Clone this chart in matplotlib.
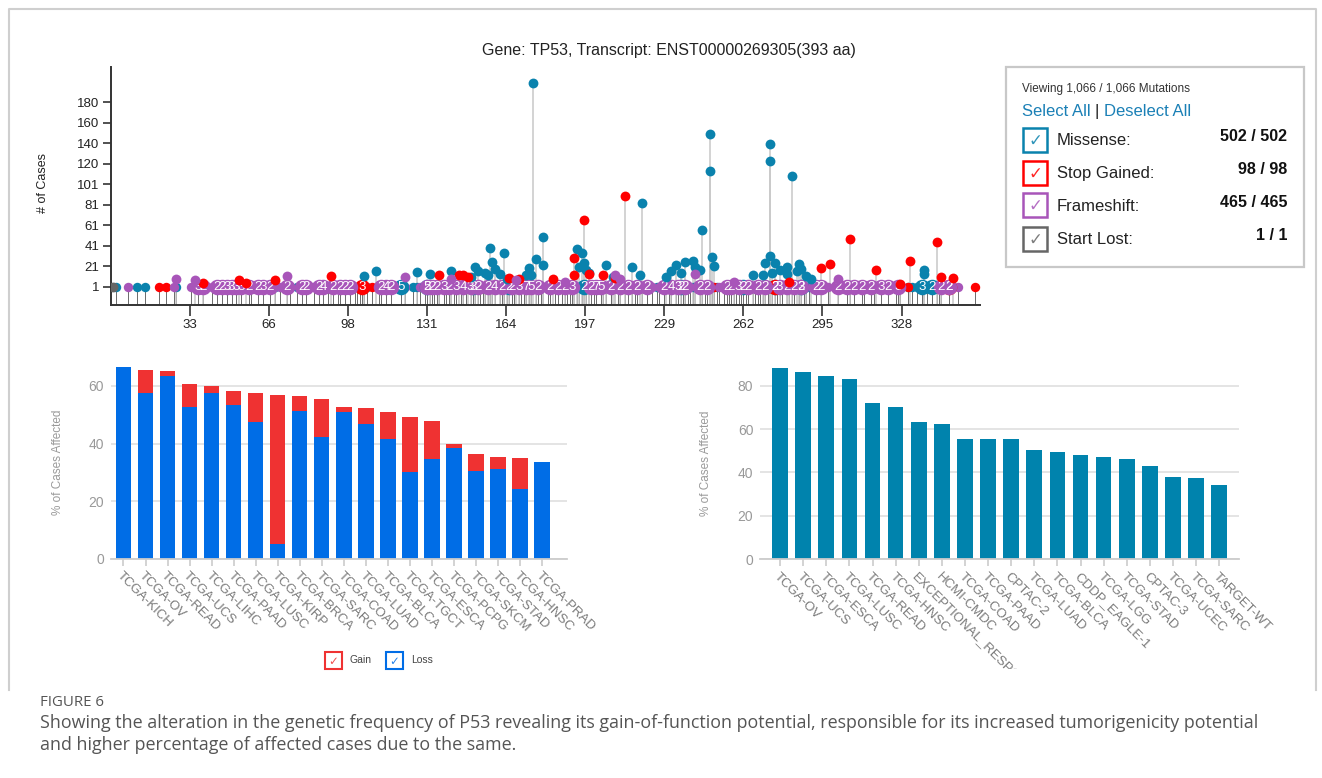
import matplotlib
matplotlib.use('Agg')
import matplotlib.pyplot as plt
from matplotlib.patches import Rectangle
from matplotlib.transforms import Bbox, TransformedBbox

W, H = 1322, 778
plt.rcParams['font.family'] = ['Liberation Sans', 'DejaVu Sans']

# ---------------- data: lollipop (TP53) ----------------
title_text = "Gene: TP53, Transcript: ENST00000269305(393 aa)"
protein_len = 393
x_tick_labels = ['33', '66', '98', '131', '164', '197', '229', '262', '295', '328']
y_tick_labels = ['1', '21', '41', '61', '81', '101', '120', '140', '160', '180']

mis_hi_pos = [175, 248, 248, 273, 273, 282, 220, 245, 179, 157, 193, 163, 195, 273, 249, 176,
              241, 238, 158, 271, 275, 285, 234, 179, 205, 151, 216, 280, 173, 286, 337, 277,
              159, 141, 110, 127, 198, 236, 132, 161, 280, 337, 266, 105, 244, 250, 152, 155,
              242, 270, 156, 194, 196, 197, 274, 284, 288, 290, 232, 230, 208, 219, 172, 149,
              164, 174]
mis_hi_cases = [199, 149, 113, 140, 123, 108, 82, 56, 49, 39, 38, 34, 34, 31, 30, 28,
                26, 25, 25, 24, 24, 23, 22, 22, 22, 20, 20, 20, 19, 18, 17, 17,
                18, 16, 16, 15, 14, 14, 13, 13, 13, 13, 12, 11, 17, 21, 16, 14,
                20, 12, 12, 20, 24, 17, 14, 16, 11, 8, 16, 10, 10, 12, 12, 10,
                8, 12]
stop_hi_pos = [213, 196, 306, 342, 192, 331, 298, 294, 317, 198, 204, 144, 146, 136, 91, 165,
               169, 183, 349, 68, 53, 56, 38, 327, 344, 148, 192, 209, 281]
stop_hi_cases = [89, 66, 47, 44, 29, 26, 23, 19, 17, 13, 12, 12, 12, 12, 11, 9,
                 8, 8, 9, 7, 7, 5, 5, 4, 10, 10, 12, 9, 6]
fs_hi_pos = [73, 27, 35, 301, 209, 242, 122, 168, 211, 258, 141, 188]
fs_hi_cases = [11, 8, 7, 8, 12, 13, 10, 7, 8, 6, 8, 6]
start_pos = [1]
start_cases = [1]

mis_base_pos = [2, 11, 14, 27, 48, 54, 68, 77, 94, 101, 106, 111, 120, 125, 127, 130, 132, 134,
                136, 138, 141, 143, 145, 151, 152, 154, 155, 157, 158, 159, 161, 163, 164, 172,
                173, 176, 179, 181, 187, 190, 193, 194, 195, 197, 205, 213, 216, 217, 220, 226,
                232, 234, 236, 237, 238, 239, 241, 242, 244, 245, 246, 248, 249, 251, 254, 256,
                258, 259, 266, 267, 270, 271, 272, 273, 274, 275, 276, 277, 278, 280, 281, 283,
                285, 286, 287, 289, 330, 332, 334, 336, 338, 340, 343]
stop_base_pos = [20, 23, 38, 57, 103, 105, 108, 136, 142, 147, 150, 165, 166, 170, 192, 196,
                 204, 213, 222, 250, 264, 274, 276, 278, 306, 316, 330, 342, 347, 358]
fs_base_pos = [7, 26, 33, 42, 58, 70, 74, 84, 90, 102, 122, 128, 139, 147, 153, 167, 171, 178,
               184, 189, 200, 207, 210, 224, 227, 231, 240, 252, 257, 261, 263, 269, 282, 288,
               292, 297, 305, 312, 325, 327, 351]

fs_lab_pos = [36, 38, 44, 46, 48, 50, 52, 54, 57, 61, 63, 66, 73, 79, 81, 86, 88, 92, 95, 97,
              99, 112, 114, 116, 131, 133, 135, 138, 140, 143, 146, 149, 152, 156, 159, 162,
              166, 169, 172, 174, 177, 182, 185, 188, 191, 199, 201, 203, 207, 211, 214, 218,
              222, 229, 232, 235, 238, 244, 247, 255, 257, 260, 264, 268, 271, 277, 280, 283,
              286, 292, 294, 301, 305, 308, 311, 315, 319, 322, 326, 344, 347]
fs_lab_n = ['3', '2', '2', '2', '3', '3', '3', '3', '2', '2', '3', '2', '2', '2', '2', '2',
            '4', '2', '2', '2', '2', '2', '4', '2', '5', '2', '2', '3', '2', '3', '4', '3',
            '2', '2', '4', '2', '2', '3', '7', '5', '2', '2', '2', '2', '3', '2', '7', '5',
            '2', '2', '2', '2', '2', '2', '4', '3', '2', '2', '2', '2', '2', '3', '2', '2',
            '2', '3', '2', '2', '2', '2', '2', '2', '2', '2', '2', '2', '3', '2', '3', '2', '2']
mis_lab_pos = [120, 131, 150, 165, 196, 236, 262, 275, 286, 336, 340]
mis_lab_n = ['5', '2', '3', '2', '2', '2', '2', '2', '3', '3', '2']
stop_lab_pos = [104, 275, 347]
stop_lab_n = ['3', '2', '2']

legend_rows = ['Missense:', 'Stop Gained:', 'Frameshift:', 'Start Lost:']
legend_counts = ['502 / 502', '98 / 98', '465 / 465', '1 / 1']

# ---------------- data: CNV bar chart (left) ----------------
left_cats = ['TCGA-KICH', 'TCGA-OV', 'TCGA-READ', 'TCGA-UCS', 'TCGA-LIHC', 'TCGA-PAAD',
             'TCGA-LUSC', 'TCGA-KIRP', 'TCGA-BRCA', 'TCGA-SARC', 'TCGA-COAD', 'TCGA-LUAD',
             'TCGA-BLCA', 'TCGA-TGCT', 'TCGA-ESCA', 'TCGA-PCPG', 'TCGA-SKCM', 'TCGA-STAD',
             'TCGA-HNSC', 'TCGA-PRAD']
left_loss = [66.7, 57.5, 63.5, 52.7, 57.5, 53.4, 47.5, 5.2, 51.4, 42.2, 50.8, 46.8, 41.7,
             30.1, 34.6, 38.5, 30.5, 31.1, 24.4, 33.8]
left_gain = [0.0, 8.0, 1.8, 7.8, 2.5, 5.0, 10.0, 51.8, 5.1, 13.2, 1.9, 5.5, 9.1, 19.3,
             13.4, 1.3, 5.8, 4.4, 10.6, 0.0]

# ---------------- data: mutation frequency bar chart (right) ----------------
right_cats = ['TCGA-OV', 'TCGA-UCS', 'TCGA-ESCA', 'TCGA-LUSC', 'TCGA-READ', 'TCGA-HNSC',
              'EXCEPTIONAL_RESPONDERS', 'HCMI-CMDC', 'TCGA-COAD', 'TCGA-PAAD', 'CPTAC-2',
              'TCGA-LUAD', 'TCGA-BLCA', 'CDDP_EAGLE-1', 'TCGA-LGG', 'TCGA-STAD', 'CPTAC-3',
              'TCGA-UCEC', 'TCGA-SARC', 'TARGET-WT']
right_vals = [88.0, 86.3, 84.6, 83.1, 71.9, 70.3, 63.4, 62.2, 55.6, 55.6, 55.4, 50.5, 49.4,
              48.2, 47.0, 46.1, 43.1, 37.8, 37.6, 34.2]

caption_head = "FIGURE 6"
caption_lines = ["Showing the alteration in the genetic frequency of P53 revealing its gain-of-function potential, responsible for its increased tumorigenicity potential",
                 "and higher percentage of affected cases due to the same."]

# ---------------- colours ----------------
C_MIS = '#0a82ad'
C_STOP = '#ff0000'
C_FS = '#a855b9'
C_START = '#666666'
C_LOSS = '#006de6'
C_GAIN = '#ef3232'
C_TEAL = '#0083ad'


def frac(l, t, r, b):
    return [l / W, 1 - b / H, (r - l) / W, (b - t) / H]


fig = plt.figure(figsize=(W / 100, H / 100), dpi=100)

# ================= lollipop =================
ax = fig.add_axes(frac(110.9, 67, 980, 305))
ybot = -16.8
ax.set_xlim(0, 360)
ax.set_ylim(ybot, 214.3)

base_all = mis_base_pos + stop_base_pos + fs_base_pos + fs_lab_pos + mis_lab_pos + stop_lab_pos
ax.vlines(base_all, ybot, 1, colors='#6a6a6a', lw=0.7, zorder=1)
hi_pos = mis_hi_pos + stop_hi_pos + fs_hi_pos
hi_val = mis_hi_cases + stop_hi_cases + fs_hi_cases
ax.vlines(hi_pos, ybot, hi_val, colors='#c8c8c8', lw=1.1, zorder=1)

s_small = 46
s_big = 125
ax.scatter(mis_base_pos, [1] * len(mis_base_pos), s=s_small, color=C_MIS, zorder=2, lw=0)
ax.scatter(stop_base_pos, [1] * len(stop_base_pos), s=s_small, color=C_STOP, zorder=2, lw=0)
ax.scatter(fs_base_pos, [1] * len(fs_base_pos), s=s_small, color=C_FS, zorder=2, lw=0)
ax.scatter(mis_lab_pos, [1] * len(mis_lab_pos), s=s_big, color=C_MIS, zorder=3, lw=0)
ax.scatter(stop_lab_pos, [1] * len(stop_lab_pos), s=s_big, color=C_STOP, zorder=3, lw=0)
ax.scatter(fs_lab_pos, [1] * len(fs_lab_pos), s=s_big, color=C_FS, zorder=3, lw=0)
for p, n in zip(fs_lab_pos + mis_lab_pos + stop_lab_pos, fs_lab_n + mis_lab_n + stop_lab_n):
    ax.text(p, 0.5, n, color='white', fontsize=9.5, ha='center', va='center', zorder=4)

ax.scatter(mis_hi_pos, mis_hi_cases, s=50, color=C_MIS, zorder=5, lw=0)
ax.scatter(stop_hi_pos, stop_hi_cases, s=50, color=C_STOP, zorder=5, lw=0)
ax.scatter(fs_hi_pos, fs_hi_cases, s=50, color=C_FS, zorder=5, lw=0)
ax.scatter(start_pos, start_cases, s=50, color=C_START, zorder=5, lw=0)

ax.set_xticks([protein_len / 12 * (i + 1) for i in range(len(x_tick_labels))])
ax.set_xticklabels(x_tick_labels)
ax.set_yticks([1 + 19.9 * i for i in range(len(y_tick_labels))])
ax.set_yticklabels(y_tick_labels)
for s in ['top', 'right']:
    ax.spines[s].set_visible(False)
for s in ['left', 'bottom']:
    ax.spines[s].set_color('#333333')
    ax.spines[s].set_linewidth(1.4)
ax.tick_params(axis='x', length=8, width=1.2, color='#333333', labelsize=9.5,
               labelcolor='#222222', pad=2)
ax.tick_params(axis='y', length=6, width=1.2, color='#333333', labelsize=9.5,
               labelcolor='#222222', pad=2.5)

# ================= left bar chart =================
axl = fig.add_axes(frac(110.7, 362, 566.8, 559))
xl = list(range(len(left_cats)))
axl.bar(xl, left_loss, width=0.7, color=C_LOSS, zorder=2)
axl.bar(xl, left_gain, width=0.7, bottom=left_loss, color=C_GAIN, zorder=2)
axl.set_xlim(-0.58, 20.12)
axl.set_ylim(0, 68.3)
axl.set_yticks([0, 20, 40, 60])

# ================= right bar chart =================
axr = fig.add_axes(frac(760.2, 362, 1239.3, 559.3))
xr = list(range(len(right_cats)))
axr.bar(xr, right_vals, width=0.68, color=C_TEAL, zorder=2)
axr.set_xlim(-0.86, 19.87)
axr.set_ylim(0, 90.9)
axr.set_yticks([0, 20, 40, 60, 80])

clip_bb = TransformedBbox(Bbox([[0, 1 - 669 / H], [1, 1]]), fig.transFigure)
for a, cats, pos in [(axl, left_cats, xl), (axr, right_cats, xr)]:
    for s in ['top', 'right', 'left']:
        a.spines[s].set_visible(False)
    a.spines['bottom'].set_color('#cccccc')
    a.spines['bottom'].set_linewidth(1.3)
    a.grid(axis='y', color='#e2e2e2', lw=1.3)
    a.grid(axis='x', visible=False)
    a.set_axisbelow(True)
    a.tick_params(axis='y', length=0, labelsize=10, labelcolor='#999999', pad=5)
    a.tick_params(axis='x', length=5, width=1.2, color='#cccccc', pad=3)
    a.set_xticks(pos)
    a.set_xticklabels(cats, rotation=-45, ha='left', va='top', rotation_mode='anchor',
                      fontsize=9.5, color='#7a7a7a')
    for lab in a.get_xticklabels():
        lab.set_clip_box(clip_bb)
        lab.set_clip_on(True)

# ================= overlay (legends, labels, caption) =================
ov = fig.add_axes([0, 0, 1, 1])
ov.set_xlim(0, W)
ov.set_ylim(H, 0)
ov.axis('off')
ov.patch.set_visible(False)

# border of the figure image
ov.plot([9.3, 9.3, 1316, 1316], [690, 9.3, 9.3, 690], color='#cfcfcf', lw=1.5)

ov.text(669, 50, title_text, ha='center', va='center', fontsize=11.5, color='#222222')
ov.text(42.5, 183, '# of Cases', rotation=90, ha='center', va='center', fontsize=9,
        color='#222222')
ov.text(58, 462, '% of Cases Affected', rotation=90, ha='center', va='center', fontsize=8.5,
        color='#9a9a9a')
ov.text(706, 463, '% of Cases Affected', rotation=90, ha='center', va='center', fontsize=8.5,
        color='#9a9a9a')


def checkbox(x, y, size, color, lw, fs):
    ov.add_patch(Rectangle((x, y), size, size, fill=False, edgecolor=color, lw=lw))
    ov.text(x + size / 2, y + size / 2 + 1, '\u2713', color=color, fontsize=fs,
            ha='center', va='center', family='DejaVu Sans', alpha=0.85)


# mutation legend box
ov.add_patch(Rectangle((1005.5, 66.7), 298.5, 200, fill=False, edgecolor='#c8c8c8', lw=1.6))
ov.text(1021.7, 89.3, 'Viewing 1,066 / 1,066 Mutations', fontsize=8.5, color='#333333',
        va='center', ha='left')
ov.text(1021.7, 111, 'Select All', fontsize=12, color='#1b80b6', va='center', ha='left')
ov.text(1094, 111, '|', fontsize=12, color='#222222', va='center', ha='left')
ov.text(1104, 111, 'Deselect All', fontsize=12, color='#1b80b6', va='center', ha='left')
row_y = [139.7, 172.5, 205.0, 238.5]
row_col = [C_MIS, C_STOP, C_FS, C_START]
for yy, lab, cnt, col in zip(row_y, legend_rows, legend_counts, row_col):
    checkbox(1023, yy - 12, 24, col, 1.8, 12)
    ov.text(1056.7, yy + 1, lab, fontsize=12, color='#222222', va='center', ha='left')
    ov.text(1287, yy - 3, cnt, fontsize=11.6, color='#111111', va='center', ha='right',
            fontweight='bold')

# gain / loss legend
checkbox(325, 652, 17, C_GAIN, 1.5, 8.5)
ov.text(350, 660, 'Gain', fontsize=7.5, color='#444444', va='center', ha='left')
checkbox(385.5, 652, 17, C_LOSS, 1.5, 8.5)
ov.text(411, 660, 'Loss', fontsize=7.5, color='#444444', va='center', ha='left')

# caption
ov.text(40, 703, caption_head, fontsize=10.8, color='#555555', va='center', ha='left',
        family=['Open Sans', 'DejaVu Sans'])
ov.text(40, 723, caption_lines[0], fontsize=12.85, color='#555555', va='center', ha='left',
        family=['Open Sans', 'DejaVu Sans'])
ov.text(40, 745, caption_lines[1], fontsize=12.85, color='#555555', va='center', ha='left',
        family=['Open Sans', 'DejaVu Sans'])

fig.savefig('out.png', dpi=100)
